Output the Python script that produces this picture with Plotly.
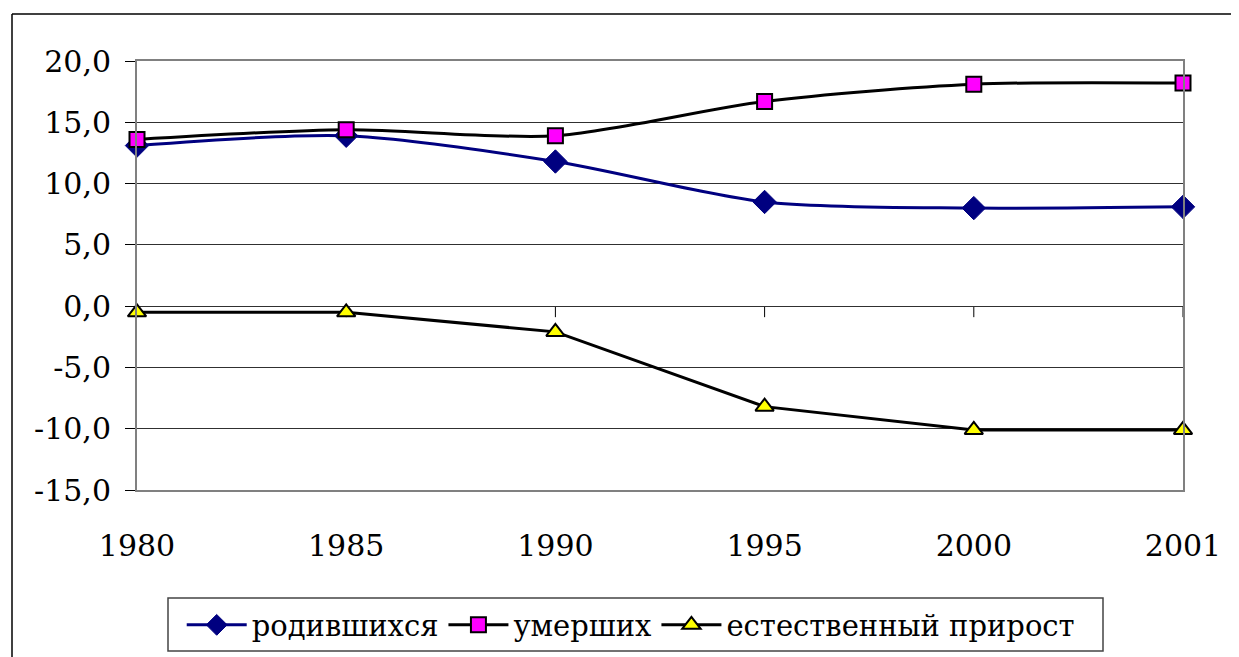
import plotly.graph_objects as go

years = ["1980", "1985", "1990", "1995", "2000", "2001"]
born = [13.1, 13.9, 11.8, 8.5, 8.0, 8.1]
died = [13.6, 14.4, 13.9, 16.7, 18.1, 18.2]
natural = [-0.5, -0.5, -2.1, -8.2, -10.1, -10.1]
y_ticks = [20, 15, 10, 5, 0, -5, -10, -15]
y_ticktext = ["20,0", "15,0", "10,0", "5,0", "0,0", "-5,0", "-10,0", "-15,0"]
names = ["родившихся", "умерших", "естественный прирост"]

xs = list(range(len(years)))
FONT = "DejaVu Serif"

fig = go.Figure()
fig.add_trace(go.Scatter(
    x=xs, y=born, name=names[0], mode="lines+markers",
    line=dict(color="#000080", width=3, shape="spline", smoothing=0.8),
    marker=dict(symbol="diamond", size=18, color="#000080", line=dict(color="#000080", width=1)),
    cliponaxis=False))
fig.add_trace(go.Scatter(
    x=xs, y=died, name=names[1], mode="lines+markers",
    line=dict(color="#000000", width=3, shape="spline", smoothing=0.8),
    marker=dict(symbol="square", size=15, color="#ff00ff", line=dict(color="#000000", width=2)),
    cliponaxis=False))
fig.add_trace(go.Scatter(
    x=xs, y=natural, name=names[2], mode="lines+markers",
    line=dict(color="#000000", width=3),
    marker=dict(symbol="triangle-up", size=16, color="#ffff00", line=dict(color="#000000", width=2)),
    cliponaxis=False))

shapes = []
for i in xs:
    shapes.append(dict(type="line", xref="x", yref="y", x0=i, x1=i, y0=0, y1=-0.9,
                       line=dict(color="#000000", width=1), layer="below"))
# outer chart border (top and left edges visible)
shapes.append(dict(type="line", xref="paper", yref="paper",
                   x0=-0.1195, x1=1.3, y0=1.1096, y1=1.1096,
                   line=dict(color="#000000", width=1.5), layer="below"))
shapes.append(dict(type="line", xref="paper", yref="paper",
                   x0=-0.1195, x1=-0.1195, y0=-0.6, y1=1.1096,
                   line=dict(color="#000000", width=1.5), layer="below"))
# legend frame
shapes.append(dict(type="rect", xref="paper", yref="paper",
                   x0=(160 - 129) / 1046, x1=(1095 - 129) / 1046,
                   y0=(482 - 643) / 429, y1=(482 - 590) / 429,
                   line=dict(color="#444444", width=1.5), fillcolor="white", layer="below"))

fig.update_layout(
    width=1231, height=649,
    margin=dict(l=129, r=56, t=53, b=167, autoexpand=False),
    paper_bgcolor="white", plot_bgcolor="white",
    font=dict(family=FONT, size=30, color="#000000"),
    showlegend=True,
    legend=dict(orientation="h", x=0.472, xanchor="center", y=-0.3147, yanchor="middle",
                font=dict(family=FONT, size=29, color="#000000"),
                borderwidth=0, bgcolor="rgba(0,0,0,0)",
                itemwidth=60, tracegroupgap=0),
    shapes=shapes,
    xaxis=dict(range=[0, 5], tickvals=xs, ticktext=years, showgrid=False, zeroline=False,
               showline=True, mirror=True, linecolor="#808080", linewidth=2,
               ticks="", ticklabelstandoff=28, tickfont=dict(family=FONT, size=30)),
    yaxis=dict(range=[-15, 20], tickvals=y_ticks, ticktext=y_ticktext,
               showgrid=True, gridcolor="#303030", gridwidth=1, zeroline=False,
               showline=True, mirror=True, linecolor="#808080", linewidth=2,
               ticks="outside", ticklen=10, tickcolor="#000000", tickwidth=1,
               ticklabelstandoff=8, tickfont=dict(family=FONT, size=30)),
)

fig.write_html("out.html")
